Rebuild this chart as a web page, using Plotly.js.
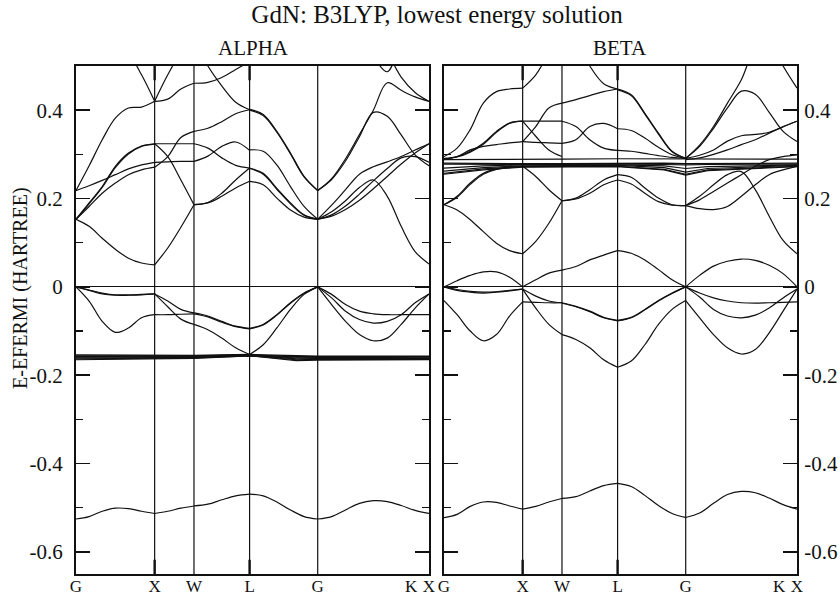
<!DOCTYPE html>
<html>
<head>
<meta charset="utf-8">
<script src="https://cdn.plot.ly/plotly-3.0.1.min.js"></script>
<style>html,body{margin:0;padding:0;background:#fff;}#chart{width:840px;height:599px;}</style>
</head>
<body>
<div id="chart"></div>
<script>
// ---- k-path ----
const kLabels = ['G', 'X', 'W', 'L', 'G', 'K', 'X'];
const kTickPos = [0, 1, 1.5, 2.207, 3.073, 4.26, 4.488];
const kLinePos = [1, 1.5, 2.207, 3.073];
const kMajorTickPos = [1, 2.207];
const segBounds = [[0, 1], [1, 1.5], [1.5, 2.207], [2.207, 3.073], [3.073, 4.488]];
const yTickVals = [-0.6, -0.4, -0.2, 0, 0.2, 0.4];
const yTickText = ['-0.6', '-0.4', '-0.2', '0', '0.2', '0.4'];
const yMinorVals = [-0.5, -0.3, -0.1, 0.1, 0.3];

// ---- ALPHA bands, per path segment (evenly spaced samples) ----
const alphaGX = [
  [0.153, 0.137, 0.110, 0.085, 0.065, 0.054, 0.050],
  [0.153, 0.182, 0.212, 0.235, 0.254, 0.265, 0.271],
  [0.153, 0.190, 0.227, 0.273, 0.303, 0.319, 0.324],
  [0.153, 0.188, 0.225, 0.270, 0.301, 0.318, 0.323],
  [0.218, 0.229, 0.241, 0.254, 0.267, 0.276, 0.282],
  [0.218, 0.274, 0.333, 0.382, 0.405, 0.407, 0.420],
  [0.620, 0.600, 0.580, 0.560, 0.530, 0.480, 0.420],
  [0, -0.008, -0.016, -0.019, -0.019, -0.018, -0.016],
  [0, -0.007, -0.014, -0.018, -0.018, -0.017, -0.016],
  [0, -0.032, -0.078, -0.103, -0.093, -0.070, -0.063],
  [-0.5255, -0.520, -0.508, -0.501, -0.502, -0.508, -0.513]
];
const alphaXW = [
  [0.420, 0.480, 0.530, 0.560],
  [0.420, 0.425, 0.448, 0.461],
  [0.324, 0.324, 0.324, 0.324],
  [0.324, 0.295, 0.242, 0.186],
  [0.271, 0.295, 0.338, 0.352],
  [0.282, 0.283, 0.284, 0.284],
  [0.050, 0.088, 0.135, 0.186],
  [-0.016, -0.032, -0.051, -0.059],
  [-0.016, -0.045, -0.073, -0.085],
  [-0.063, -0.063, -0.062, -0.061],
  [-0.513, -0.508, -0.501, -0.496]
];
const alphaWL = [
  [0.461, 0.463, 0.474, 0.492, 0.510],
  [0.560, 0.500, 0.455, 0.418, 0.401],
  [0.352, 0.359, 0.374, 0.392, 0.401],
  [0.324, 0.314, 0.292, 0.275, 0.269],
  [0.284, 0.296, 0.318, 0.328, 0.309],
  [0.186, 0.191, 0.212, 0.242, 0.269],
  [0.186, 0.190, 0.205, 0.224, 0.239],
  [-0.059, -0.066, -0.078, -0.089, -0.094],
  [-0.061, -0.068, -0.080, -0.090, -0.095],
  [-0.085, -0.097, -0.116, -0.138, -0.153],
  [-0.496, -0.492, -0.482, -0.473, -0.469]
];
const alphaLG = [
  [0.402, 0.390, 0.352, 0.303, 0.250, 0.218],
  [0.400, 0.388, 0.350, 0.301, 0.249, 0.218],
  [0.310, 0.307, 0.276, 0.227, 0.182, 0.153],
  [0.269, 0.257, 0.223, 0.190, 0.163, 0.153],
  [0.268, 0.255, 0.221, 0.188, 0.162, 0.153],
  [0.239, 0.231, 0.201, 0.174, 0.158, 0.153],
  [-0.094, -0.085, -0.063, -0.036, -0.014, 0],
  [-0.095, -0.086, -0.064, -0.037, -0.015, 0],
  [-0.153, -0.131, -0.093, -0.051, -0.017, 0],
  [-0.469, -0.473, -0.487, -0.505, -0.520, -0.5255]
];
const alphaGKX = [
  [0.218, 0.245, 0.290, 0.345, 0.400, 0.462, 0.445, 0.430, 0.420],
  [0.218, 0.243, 0.285, 0.340, 0.395, 0.386, 0.344, 0.299, 0.274],
  [0.153, 0.170, 0.195, 0.225, 0.242, 0.205, 0.137, 0.080, 0.052],
  [0.153, 0.185, 0.220, 0.255, 0.272, 0.283, 0.295, 0.310, 0.324],
  [0.153, 0.160, 0.175, 0.196, 0.222, 0.250, 0.278, 0.303, 0.324],
  [0.153, 0.163, 0.183, 0.210, 0.240, 0.268, 0.292, 0.295, 0.282],
  [0.700, 0.650, 0.600, 0.560, 0.520, 0.487, 0.560, 0.620, 0.680],
  [0.700, 0.680, 0.650, 0.610, 0.570, 0.530, 0.475, 0.440, 0.420],
  [0, -0.017, -0.040, -0.055, -0.061, -0.063, -0.063, -0.063, -0.063],
  [0, -0.025, -0.055, -0.074, -0.082, -0.078, -0.063, -0.036, -0.016],
  [0, -0.040, -0.078, -0.108, -0.122, -0.116, -0.085, -0.048, -0.016],
  [-0.5255, -0.520, -0.505, -0.490, -0.484, -0.486, -0.495, -0.506, -0.513]
];
// flat f bands, sampled at flatK
const flatK = [0, 0.5, 1, 1.5, 2.207, 2.8, 3.073, 3.35, 4.488];
const alphaFlat = [
  [-0.154, -0.154, -0.155, -0.155, -0.153, -0.156, -0.157, -0.157, -0.157],
  [-0.156, -0.156, -0.156, -0.156, -0.154, -0.158, -0.158, -0.158, -0.158],
  [-0.158, -0.157, -0.157, -0.157, -0.154, -0.159, -0.160, -0.160, -0.159],
  [-0.159, -0.159, -0.159, -0.158, -0.155, -0.161, -0.161, -0.161, -0.161],
  [-0.161, -0.160, -0.160, -0.160, -0.155, -0.163, -0.162, -0.162, -0.162],
  [-0.163, -0.162, -0.161, -0.161, -0.156, -0.165, -0.164, -0.164, -0.164],
  [-0.165, -0.164, -0.163, -0.162, -0.156, -0.167, -0.166, -0.166, -0.165]
];

// ---- BETA bands ----
const betaGX = [
  [0.186, 0.174, 0.152, 0.125, 0.099, 0.082, 0.075],
  [0.186, 0.205, 0.235, 0.257, 0.267, 0.271, 0.273],
  [0.186, 0.203, 0.232, 0.255, 0.266, 0.270, 0.273],
  [0.295, 0.314, 0.356, 0.416, 0.442, 0.448, 0.450],
  [0.291, 0.295, 0.307, 0.325, 0.352, 0.371, 0.375],
  [0.290, 0.294, 0.305, 0.323, 0.350, 0.370, 0.375],
  [0.288, 0.295, 0.310, 0.318, 0.322, 0.326, 0.329],
  [0, 0.014, 0.026, 0.034, 0.034, 0.022, 0],
  [0, -0.008, -0.012, -0.014, -0.012, -0.009, -0.005],
  [0, -0.006, -0.010, -0.012, -0.011, -0.008, -0.005],
  [-0.031, -0.063, -0.100, -0.122, -0.108, -0.066, -0.034],
  [-0.5225, -0.515, -0.497, -0.487, -0.488, -0.496, -0.503]
];
const betaXW = [
  [0.450, 0.480, 0.530, 0.580],
  [0.375, 0.375, 0.375, 0.375],
  [0.375, 0.341, 0.310, 0.295],
  [0.329, 0.363, 0.405, 0.416],
  [0.329, 0.327, 0.326, 0.325],
  [0.075, 0.103, 0.144, 0.195],
  [0.273, 0.250, 0.220, 0.195],
  [0, 0.016, 0.031, 0.038],
  [-0.005, -0.021, -0.032, -0.036],
  [-0.034, -0.035, -0.036, -0.036],
  [-0.005, -0.048, -0.085, -0.108],
  [-0.503, -0.497, -0.487, -0.479]
];
const betaWL = [
  [0.416, 0.424, 0.433, 0.442, 0.448],
  [0.600, 0.560, 0.500, 0.460, 0.448],
  [0.375, 0.363, 0.333, 0.314, 0.309],
  [0.325, 0.333, 0.363, 0.370, 0.358],
  [0.195, 0.201, 0.220, 0.242, 0.254],
  [0.195, 0.199, 0.212, 0.231, 0.242],
  [0.038, 0.046, 0.061, 0.072, 0.082],
  [-0.036, -0.044, -0.055, -0.069, -0.076],
  [-0.037, -0.045, -0.056, -0.070, -0.077],
  [-0.108, -0.119, -0.138, -0.165, -0.182],
  [-0.479, -0.475, -0.462, -0.450, -0.445]
];
const betaLG = [
  [0.448, 0.435, 0.393, 0.348, 0.307, 0.291],
  [0.446, 0.433, 0.391, 0.346, 0.306, 0.291],
  [0.358, 0.354, 0.337, 0.316, 0.299, 0.291],
  [0.309, 0.307, 0.302, 0.297, 0.293, 0.291],
  [0.254, 0.248, 0.224, 0.201, 0.186, 0.184],
  [0.242, 0.233, 0.212, 0.193, 0.185, 0.184],
  [0.082, 0.076, 0.061, 0.039, 0.016, 0],
  [-0.076, -0.069, -0.051, -0.031, -0.014, 0],
  [-0.077, -0.070, -0.052, -0.032, -0.015, 0],
  [-0.182, -0.168, -0.131, -0.085, -0.051, -0.031],
  [-0.445, -0.452, -0.472, -0.495, -0.513, -0.522]
];
const betaGKX = [
  [0.291, 0.318, 0.359, 0.405, 0.443, 0.436, 0.395, 0.352, 0.329],
  [0.291, 0.321, 0.363, 0.416, 0.469, 0.540, 0.560, 0.500, 0.450],
  [0.291, 0.298, 0.310, 0.330, 0.342, 0.345, 0.350, 0.362, 0.375],
  [0.288, 0.292, 0.300, 0.310, 0.322, 0.333, 0.348, 0.363, 0.375],
  [0.184, 0.205, 0.231, 0.254, 0.261, 0.220, 0.160, 0.105, 0.075],
  [0.184, 0.197, 0.216, 0.235, 0.254, 0.273, 0.288, 0.295, 0.299],
  [0.184, 0.177, 0.175, 0.182, 0.205, 0.231, 0.254, 0.265, 0.273],
  [0, 0.026, 0.047, 0.058, 0.063, 0.060, 0.049, 0.030, 0],
  [0, -0.014, -0.025, -0.032, -0.036, -0.037, -0.036, -0.035, -0.034],
  [0, -0.023, -0.051, -0.066, -0.070, -0.064, -0.048, -0.025, -0.005],
  [-0.031, -0.070, -0.108, -0.138, -0.152, -0.142, -0.104, -0.055, -0.005],
  [-0.522, -0.512, -0.490, -0.470, -0.463, -0.466, -0.478, -0.493, -0.503]
];
const betaFlat = [
  [0.288, 0.288, 0.289, 0.289, 0.290, 0.290, 0.289, 0.289, 0.289],
  [0.280, 0.279, 0.279, 0.279, 0.280, 0.280, 0.279, 0.279, 0.280],
  [0.278, 0.277, 0.277, 0.277, 0.278, 0.277, 0.276, 0.277, 0.278],
  [0.269, 0.274, 0.276, 0.276, 0.276, 0.274, 0.268, 0.272, 0.276],
  [0.262, 0.270, 0.274, 0.274, 0.275, 0.270, 0.260, 0.268, 0.275],
  [0.257, 0.267, 0.272, 0.273, 0.273, 0.266, 0.255, 0.265, 0.273],
  [0.255, 0.265, 0.271, 0.272, 0.272, 0.265, 0.253, 0.263, 0.272]
];

// ---- build traces ----
function segTrace(segList, xa, ya) {
  const xs = [], ys = [];
  segList.forEach((curves, s) => {
    const lo = segBounds[s][0], hi = segBounds[s][1];
    curves.forEach(c => {
      const n = c.length;
      c.forEach((v, i) => { xs.push(lo + (hi - lo) * i / (n - 1)); ys.push(v); });
      xs.push(null); ys.push(null);
    });
  });
  return {type: 'scatter', mode: 'lines', x: xs, y: ys, xaxis: xa, yaxis: ya,
    line: {color: '#111', width: 1.2, shape: 'spline', smoothing: 1},
    connectgaps: false, hoverinfo: 'skip', showlegend: false};
}
function flatTrace(bands, xa, ya) {
  const xs = [], ys = [];
  bands.forEach(b => {
    b.forEach((v, i) => { xs.push(flatK[i]); ys.push(v); });
    xs.push(null); ys.push(null);
  });
  return {type: 'scatter', mode: 'lines', x: xs, y: ys, xaxis: xa, yaxis: ya,
    line: {color: '#111', width: 1.2}, connectgaps: false, hoverinfo: 'skip', showlegend: false};
}

const data = [
  segTrace([alphaGX, alphaXW, alphaWL, alphaLG, alphaGKX], 'x', 'y'),
  flatTrace(alphaFlat, 'x', 'y'),
  segTrace([betaGX, betaXW, betaWL, betaLG, betaGKX], 'x2', 'y2'),
  flatTrace(betaFlat, 'x2', 'y2')
];

const FONT = 'Liberation Serif';
const W = 840, H = 599;
const xd1 = [76 / W, 429 / W], xd2 = [444 / W, 797 / W];
const yd = [1 - 574 / H, 1 - 66 / H];
const yRange = [-0.65, 0.5];
const kRange = [0, 4.488];

function xAxis(domain, anchor) {
  return {domain: domain, anchor: anchor, range: kRange, showgrid: false, zeroline: false,
    showline: true, mirror: true, linecolor: '#111', linewidth: 2,
    tickmode: 'array', tickvals: kTickPos, ticktext: kLabels, ticks: '',
    ticklabelstandoff: -4, tickfont: {family: FONT, size: 17, color: '#111'}, fixedrange: true};
}
function yAxis(anchor, side, standoff) {
  return {domain: yd, anchor: anchor, side: side, range: yRange, showgrid: false,
    zeroline: true, zerolinecolor: '#111', zerolinewidth: 1.2,
    showline: true, mirror: 'ticks', linecolor: '#111', linewidth: 2,
    tickmode: 'array', tickvals: yTickVals, ticktext: yTickText,
    ticks: 'inside', ticklen: 14, tickwidth: 1.5, tickcolor: '#111',
    minor: {tickmode: 'array', tickvals: yMinorVals, ticks: 'inside', ticklen: 7, tickwidth: 1.5, tickcolor: '#111'},
    ticklabelstandoff: standoff, tickfont: {family: FONT, size: 21, color: '#111'}, fixedrange: true};
}

const shapes = [];
kLinePos.forEach(k => {
  ['x', 'x2'].forEach((xr, i) => {
    shapes.push({type: 'line', xref: xr, yref: (i === 0 ? 'y' : 'y2') + ' domain',
      x0: k, x1: k, y0: 0, y1: 1, line: {color: '#111', width: 1.2}});
  });
});
// heavier tick marks on the frame at some symmetry points
kMajorTickPos.forEach(k => {
  ['x', 'x2'].forEach((xr, i) => {
    const yr = (i === 0 ? 'y' : 'y2') + ' domain';
    shapes.push({type: 'line', xref: xr, yref: yr, x0: k, x1: k, y0: 0, y1: 0.028, line: {color: '#111', width: 2.4}});
    shapes.push({type: 'line', xref: xr, yref: yr, x0: k, x1: k, y0: 0.972, y1: 1, line: {color: '#111', width: 2.4}});
  });
});

const layout = {
  width: W, height: H, margin: {l: 0, r: 0, t: 0, b: 0},
  paper_bgcolor: '#fff', plot_bgcolor: '#fff', showlegend: false,
  font: {family: FONT, color: '#111'},
  title: {text: 'GdN: B3LYP, lowest energy solution', x: 437 / W, xanchor: 'center',
    y: 1 - 14 / H, yanchor: 'middle', font: {family: FONT, size: 25, color: '#111'}},
  xaxis: xAxis(xd1, 'y'),
  yaxis: yAxis('x', 'left', 7),
  xaxis2: xAxis(xd2, 'y2'),
  yaxis2: yAxis('x2', 'right', 1),
  shapes: shapes,
  annotations: [
    {text: 'ALPHA', xref: 'paper', yref: 'paper', x: 253 / W, y: 1 - 48 / H, xanchor: 'center', yanchor: 'middle',
      showarrow: false, font: {family: FONT, size: 21, color: '#111'}},
    {text: 'BETA', xref: 'paper', yref: 'paper', x: 620 / W, y: 1 - 48 / H, xanchor: 'center', yanchor: 'middle',
      showarrow: false, font: {family: FONT, size: 21, color: '#111'}},
    {text: 'E-EFERMI (HARTREE)', xref: 'paper', yref: 'paper', x: 20 / W, y: 1 - 288 / H, xanchor: 'center', yanchor: 'middle',
      textangle: -90, showarrow: false, font: {family: FONT, size: 20, color: '#111'}}
  ]
};

Plotly.newPlot('chart', data, layout, {displayModeBar: false, staticPlot: true});
</script>
</body>
</html>
